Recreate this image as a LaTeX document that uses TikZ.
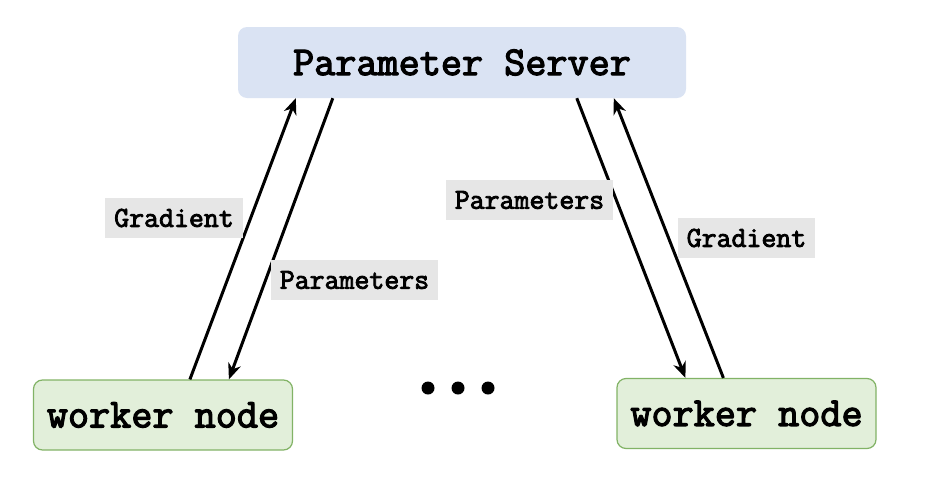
\documentclass[tikz,border=0pt]{standalone}
\usepackage{fontspec}
\newfontfamily\heavytt{Latin Modern Mono}[FakeBold=3]
\usetikzlibrary{arrows.meta}
\definecolor{psfill}{HTML}{DAE3F3}
\definecolor{wkfill}{HTML}{E2EFDA}
\definecolor{wkdraw}{HTML}{82B366}
\definecolor{lblfill}{HTML}{E6E6E6}
\begin{document}
\begin{tikzpicture}[x=1pt,y=-1pt,
  psbox/.style={rounded corners=9pt, fill=psfill, draw=none, minimum width=448pt, minimum height=71pt,
    font=\fontsize{41}{45}\selectfont\heavytt},
  wkbox/.style={rounded corners=9pt, fill=wkfill, draw=wkdraw, line width=1.2pt, minimum width=259pt, minimum height=70pt,
    font=\fontsize{41}{45}\selectfont\heavytt},
  lbl/.style={fill=lblfill, inner xsep=9pt, minimum height=40pt,
    font=\fontsize{29}{32}\selectfont\heavytt},
  conn/.style={line width=3pt, -{Stealth[length=16pt,width=13pt,inset=5pt]}},
  dot/.style={circle, fill=black, inner sep=0pt, minimum size=13pt}
]
\useasboundingbox (0,0) rectangle (938,488);
\node[psbox] (ps) at (462,62.5) {Parameter Server};
\node[wkbox] (w1) at (163,415) {worker node};
\node[wkbox] (w2) at (746.5,413.5) {worker node};

\coordinate (psa) at ([xshift=58pt]ps.south west);
\coordinate (psb) at ([xshift=95pt]ps.south west);
\coordinate (psc) at ([xshift=339pt]ps.south west);
\coordinate (psd) at ([xshift=376pt]ps.south west);
\coordinate (w1a) at ([xshift=157pt]w1.north west);
\coordinate (w1b) at ([xshift=196pt]w1.north west);
\coordinate (w2a) at ([xshift=69pt]w2.north west);
\coordinate (w2b) at ([xshift=107pt]w2.north west);

\draw[conn] (w1a) -- (psa);
\draw[conn] (psb) -- (w1b);
\draw[conn] (psc) -- (w2a);
\draw[conn] (w2b) -- (psd);

\node[lbl] (g1) at (174,218) {Gradient};
\node[lbl] (p1) at (354.5,280) {Parameters};
\node[lbl] (p2) at (529.5,200) {Parameters};
\node[lbl] (g2) at (746.5,238) {Gradient};

\node[dot] (d1) at (428,388) {};
\node[dot] (d2) at (458,388) {};
\node[dot] (d3) at (488,388) {};
\end{tikzpicture}
\end{document}
